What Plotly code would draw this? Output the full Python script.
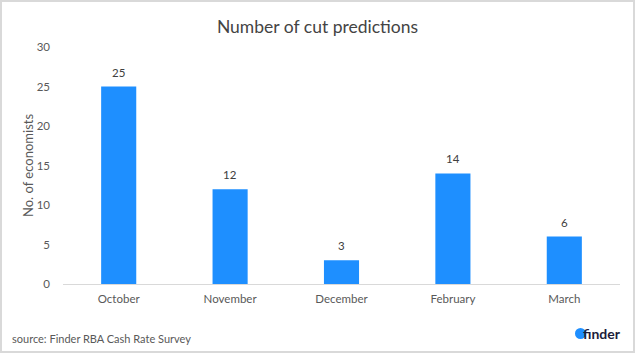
import plotly.graph_objects as go

months = ["October", "November", "December", "February", "March"]
predictions = [25, 12, 3, 14, 6]
y_ticks = [0, 5, 10, 15, 20, 25, 30]

W, H = 635, 353
L, R, T, B = 63, 15, 47, 69
pw, ph = W - L - R, H - T - B

def px(x):
    return (x - L) / pw

def py(y):
    return (H - B - y) / ph

FONT = "Lato, Carlito, 'Open Sans', sans-serif"

fig = go.Figure(go.Bar(
    x=months, y=predictions,
    marker=dict(color="#1E8FFF", line=dict(width=0)),
    width=0.315,
))

for m, v in zip(months, predictions):
    fig.add_annotation(x=m, y=v, text=str(v), showarrow=False,
                       yanchor="bottom", yshift=6,
                       font=dict(size=11.5, color="#404040", family=FONT))

fig.update_layout(
    width=W, height=H,
    margin=dict(l=L, r=R, t=T, b=B),
    paper_bgcolor="white", plot_bgcolor="white",
    showlegend=False,
    font=dict(family=FONT, color="#595959", size=11.5),
    title=dict(text="Number of cut predictions", x=0.5, xanchor="center",
               y=1 - 27 / H, yanchor="middle",
               font=dict(size=17.5, color="#444444", family=FONT)),
    xaxis=dict(showgrid=False, showline=True, linecolor="#d9d9d9", linewidth=1,
               ticks="", ticklabelstandoff=4,
               tickfont=dict(size=11.5, color="#595959"),
               range=[-0.5, 4.5]),
    yaxis=dict(range=[0, 30], tickvals=y_ticks, showgrid=False, zeroline=False,
               showline=False, ticks="", ticklabelstandoff=12,
               tickfont=dict(size=11.5, color="#595959")),
    shapes=[
        dict(type="rect", xref="paper", yref="paper",
             x0=px(1), x1=px(W - 1), y0=py(H - 1), y1=py(1),
             line=dict(color="#d9d9d9", width=2), fillcolor="rgba(0,0,0,0)"),
        dict(type="circle", xref="paper", yref="paper",
             x0=px(575), x1=px(586), y0=py(339), y1=py(328),
             line=dict(width=0), fillcolor="#1E8FFF"),
    ],
    annotations=list(fig.layout.annotations) + [
        dict(text="No. of economists", xref="paper", yref="paper", textangle=-90,
             x=px(28), y=py(166), xanchor="center", yanchor="middle", showarrow=False,
             font=dict(size=13, color="#595959", family=FONT)),
        dict(text="source: Finder RBA Cash Rate Survey", xref="paper", yref="paper",
             x=px(10), y=py(338), xanchor="left", yanchor="middle", showarrow=False,
             font=dict(size=11, color="#595959", family=FONT)),
        dict(text="<b>finder</b>", xref="paper", yref="paper",
             x=px(623), y=py(333), xanchor="right", yanchor="middle", showarrow=False,
             font=dict(size=14, color="#1c1c3a", family=FONT)),
    ],
)

fig.write_html("out.html")
